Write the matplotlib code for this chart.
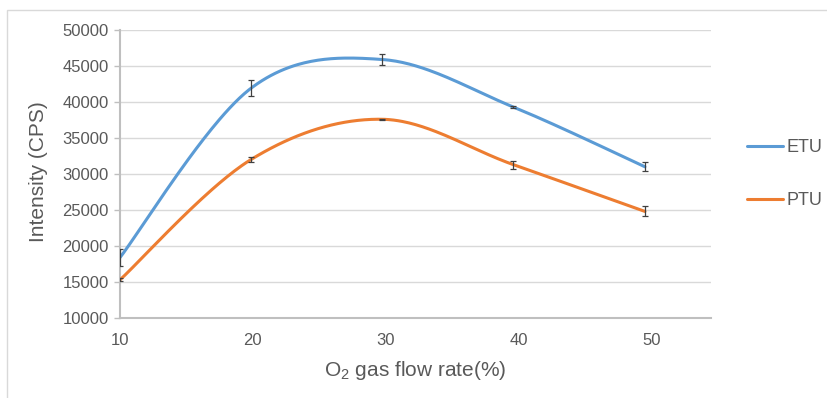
import numpy as np
import matplotlib.pyplot as plt
from matplotlib.patches import Rectangle

plt.rcParams['font.family'] = ['Liberation Sans', 'DejaVu Sans']
plt.rcParams['mathtext.default'] = 'regular'

# data
flow = [10, 19.85, 29.75, 39.6, 49.5]
etu = [18400, 41900, 45900, 39300, 31000]
etu_err = [1200, 1100, 700, 100, 650]
ptu = [15300, 32000, 37600, 31300, 24800]
ptu_err = [200, 400, 60, 550, 700]
yticks = [10000, 15000, 20000, 25000, 30000, 35000, 40000, 45000, 50000]
xticks = [10, 20, 30, 40, 50]

grey_text = '#595959'


# Excel-like smoothed line (Catmull-Rom as cubic Bezier)
def smooth(x, y, n=60):
    p = np.column_stack([x, y]).astype(float)
    p = np.vstack([p[0], p, p[-1]])
    out = []
    for i in range(1, len(p) - 2):
        p0, p1, p2, p3 = p[i - 1], p[i], p[i + 1], p[i + 2]
        c1 = p1 + (p2 - p0) / 6
        c2 = p2 - (p3 - p1) / 6
        t = np.linspace(0, 1, n)[:, None]
        seg = ((1 - t) ** 3) * p1 + 3 * ((1 - t) ** 2) * t * c1 \
            + 3 * (1 - t) * t ** 2 * c2 + t ** 3 * p2
        out.append(seg)
    seg = np.vstack(out)
    return seg[:, 0], seg[:, 1]


fig = plt.figure(figsize=(8.27, 3.98), dpi=100)

# outer chart frame
fig.patches.append(Rectangle((7 / 827, -0.1), 1.1, 1 - 10 / 398 + 0.1,
                             transform=fig.transFigure, fill=False,
                             edgecolor='#d9d9d9', linewidth=1))

ax = fig.add_axes([120 / 827, 1 - 318 / 398, 591 / 827, 288 / 398])

for vals, errs, col, name in [(etu, etu_err, '#5B9BD5', 'ETU'),
                              (ptu, ptu_err, '#ED7D31', 'PTU')]:
    sx, sy = smooth(flow, vals)
    ax.plot(sx, sy, color=col, linewidth=2.2, label=name, zorder=3,
            solid_capstyle='round')
    ax.errorbar(flow, vals, yerr=errs, fmt='none', ecolor='#404040',
                elinewidth=0.9, capsize=2.5, capthick=0.9, zorder=4)

ax.set_xlim(10, 54.47)
ax.set_ylim(10000, 50000)
ax.set_xticks(xticks)
ax.set_yticks(yticks)
ax.grid(axis='y', color='#d9d9d9', linewidth=1)
ax.set_axisbelow(True)

for s in ['top', 'right']:
    ax.spines[s].set_visible(False)
for s in ['left', 'bottom']:
    ax.spines[s].set_color('#bfbfbf')
    ax.spines[s].set_linewidth(1.5)

ax.tick_params(axis='y', colors='#bfbfbf', labelcolor=grey_text,
               labelsize=12, length=4, width=1, pad=4)
ax.tick_params(axis='x', labelcolor=grey_text, labelsize=12, length=0, pad=11)

fig.text(38 / 827, 1 - 172 / 398, 'Intensity (CPS)', rotation=90,
         ha='center', va='center', fontsize=15, color=grey_text)
fig.text(415 / 827, 1 - 370 / 398, 'O$_2$ gas flow rate(%)',
         ha='center', va='center', fontsize=15, color=grey_text)

fig.legend(loc='center left', bbox_to_anchor=(747 / 827, 1 - 174 / 398),
           frameon=False, fontsize=13, handlelength=2.0, handletextpad=0.2,
           labelspacing=2.0, borderpad=0, borderaxespad=0,
           labelcolor=grey_text)

fig.savefig('out.png', dpi=100)
